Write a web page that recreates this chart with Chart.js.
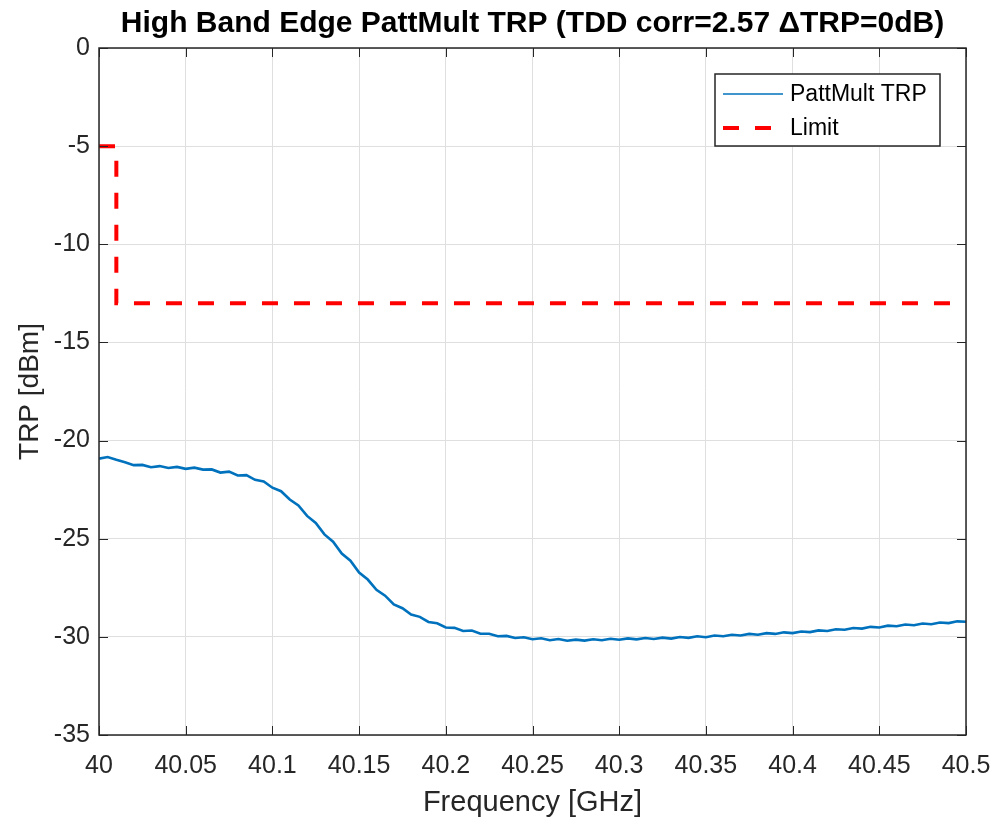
<!DOCTYPE html>
<html>
<head>
<meta charset="utf-8">
<title>High Band Edge PattMult TRP</title>
<script src="https://cdn.jsdelivr.net/npm/chart.js@4/dist/chart.umd.min.js"></script>
<style>
  html, body { margin: 0; padding: 0; background: #ffffff; }
  #wrap { width: 999px; height: 824px; }
</style>
</head>
<body>
<div id="wrap"><canvas id="trp" width="999" height="824" style="width:999px;height:824px"></canvas></div>
<script>
// Measured TRP across the upper band edge (GHz, dBm)
const freqGHz = [
  40.000, 40.005, 40.010, 40.015, 40.020, 40.025, 40.030, 40.035, 40.040, 40.045,
  40.050, 40.055, 40.060, 40.065, 40.070, 40.075, 40.080, 40.085, 40.090, 40.095,
  40.100, 40.105, 40.110, 40.115, 40.120, 40.125, 40.130, 40.135, 40.140, 40.145,
  40.150, 40.155, 40.160, 40.165, 40.170, 40.175, 40.180, 40.185, 40.190, 40.195,
  40.200, 40.205, 40.210, 40.215, 40.220, 40.225, 40.230, 40.235, 40.240, 40.245,
  40.250, 40.255, 40.260, 40.265, 40.270, 40.275, 40.280, 40.285, 40.290, 40.295,
  40.300, 40.305, 40.310, 40.315, 40.320, 40.325, 40.330, 40.335, 40.340, 40.345,
  40.350, 40.355, 40.360, 40.365, 40.370, 40.375, 40.380, 40.385, 40.390, 40.395,
  40.400, 40.405, 40.410, 40.415, 40.420, 40.425, 40.430, 40.435, 40.440, 40.445,
  40.450, 40.455, 40.460, 40.465, 40.470, 40.475, 40.480, 40.485, 40.490, 40.495,
  40.500
];
const trpDbm = [
  -20.92, -20.84, -20.98, -21.10, -21.25, -21.24, -21.36, -21.30, -21.40, -21.34,
  -21.44, -21.38, -21.48, -21.47, -21.63, -21.58, -21.78, -21.76, -22.00, -22.08,
  -22.40, -22.58, -23.00, -23.30, -23.84, -24.20, -24.78, -25.15, -25.76, -26.12,
  -26.72, -27.08, -27.60, -27.90, -28.35, -28.54, -28.86, -28.98, -29.24, -29.31,
  -29.52, -29.54, -29.70, -29.68, -29.84, -29.84, -29.97, -29.95, -30.06, -30.02,
  -30.12, -30.07, -30.17, -30.11, -30.20, -30.14, -30.19, -30.12, -30.17, -30.10,
  -30.15, -30.08, -30.13, -30.06, -30.11, -30.04, -30.09, -30.01, -30.05, -29.97,
  -30.02, -29.93, -29.97, -29.89, -29.93, -29.85, -29.89, -29.81, -29.85, -29.77,
  -29.81, -29.73, -29.76, -29.67, -29.70, -29.61, -29.64, -29.55, -29.58, -29.49,
  -29.52, -29.43, -29.46, -29.37, -29.41, -29.32, -29.36, -29.27, -29.30, -29.21,
  -29.23
];

// Emission limit mask
const limitFreqGHz = [40.000, 40.010, 40.010, 40.500];
const limitDbm     = [-5, -5, -13, -13];

// Axis ticks
const xTicks = [40, 40.05, 40.1, 40.15, 40.2, 40.25, 40.3, 40.35, 40.4, 40.45, 40.5];
const yTicks = [0, -5, -10, -15, -20, -25, -30, -35];

const seriesLabels = ['PattMult TRP', 'Limit'];
const titleText = 'High Band Edge PattMult TRP (TDD corr=2.57 \u0394TRP=0dB)';

const FONT = "'Liberation Sans', Arial, Helvetica, sans-serif";
const AXIS_COLOR = '#262626';

const toPoints = (xs, ys) => xs.map((x, i) => ({ x: x, y: ys[i] }));

// Title centred over the axes
const axesTitle = {
  id: 'axesTitle',
  afterDraw(chart) {
    const { ctx, chartArea: a } = chart;
    ctx.save();
    ctx.fillStyle = '#000000';
    ctx.font = 'bold 30px ' + FONT;
    ctx.textAlign = 'center';
    ctx.textBaseline = 'middle';
    ctx.fillText(titleText, (a.left + a.right) / 2, 24);
    ctx.restore();
  }
};

// Axes box with inward tick marks
const axesBox = {
  id: 'axesBox',
  afterDatasetsDraw(chart) {
    const { ctx, chartArea: a, scales } = chart;
    const len = 9;
    ctx.save();
    ctx.strokeStyle = AXIS_COLOR;
    ctx.lineWidth = 1;
    ctx.beginPath();
    scales.x.ticks.forEach(t => {
      const px = Math.round(scales.x.getPixelForValue(t.value)) + 0.5;
      ctx.moveTo(px, a.bottom); ctx.lineTo(px, a.bottom - len);
      ctx.moveTo(px, a.top); ctx.lineTo(px, a.top + len);
    });
    scales.y.ticks.forEach(t => {
      const py = Math.round(scales.y.getPixelForValue(t.value)) + 0.5;
      ctx.moveTo(a.left, py); ctx.lineTo(a.left + len, py);
      ctx.moveTo(a.right, py); ctx.lineTo(a.right - len, py);
    });
    ctx.stroke();
    ctx.lineWidth = 1.5;
    ctx.strokeRect(a.left, a.top, a.right - a.left, a.bottom - a.top);
    ctx.restore();
  }
};

// Boxed legend in the upper right of the axes
const boxLegend = {
  id: 'boxLegend',
  afterDraw(chart) {
    const { ctx, chartArea: a } = chart;
    const w = 225, h = 72;
    const x0 = a.right - 26 - w, y0 = a.top + 26;
    ctx.save();
    ctx.fillStyle = '#ffffff';
    ctx.fillRect(x0, y0, w, h);
    ctx.strokeStyle = AXIS_COLOR;
    ctx.lineWidth = 1.5;
    ctx.strokeRect(x0, y0, w, h);
    ctx.font = '23px ' + FONT;
    ctx.textBaseline = 'middle';
    ctx.textAlign = 'left';
    chart.data.datasets.forEach((ds, i) => {
      const cy = y0 + 20 + i * 34;
      ctx.strokeStyle = ds.borderColor;
      ctx.lineWidth = i === 0 ? 1.6 : ds.borderWidth;
      ctx.setLineDash(ds.borderDash || []);
      ctx.beginPath();
      ctx.moveTo(x0 + 8, cy);
      ctx.lineTo(x0 + 68, cy);
      ctx.stroke();
      ctx.setLineDash([]);
      ctx.fillStyle = '#000000';
      ctx.fillText(ds.label, x0 + 75, cy + 1);
    });
    ctx.restore();
  }
};

new Chart(document.getElementById('trp'), {
  type: 'scatter',
  data: {
    datasets: [
      {
        label: seriesLabels[0],
        data: toPoints(freqGHz, trpDbm),
        showLine: true,
        borderColor: '#0072BD',
        backgroundColor: '#0072BD',
        borderWidth: 2.6,
        pointRadius: 0,
        tension: 0
      },
      {
        label: seriesLabels[1],
        data: toPoints(limitFreqGHz, limitDbm),
        showLine: true,
        borderColor: '#FF0000',
        backgroundColor: '#FF0000',
        borderWidth: 4,
        borderDash: [16, 16],
        pointRadius: 0,
        tension: 0
      }
    ]
  },
  options: {
    responsive: false,
    animation: false,
    devicePixelRatio: 1,
    layout: { padding: { left: 0, right: 33, top: 48, bottom: 0 } },
    plugins: {
      legend: { display: false },
      tooltip: { enabled: false },
      title: { display: false }
    },
    scales: {
      x: {
        type: 'linear',
        min: 40,
        max: 40.5,
        afterBuildTicks: s => { s.ticks = xTicks.map(v => ({ value: v })); },
        afterFit: s => { s.height = 89; s.paddingLeft = 0; s.paddingRight = 0; },
        ticks: {
          color: AXIS_COLOR,
          font: { family: FONT, size: 25, lineHeight: 1.2 },
          padding: 16,
          maxRotation: 0,
          autoSkip: false,
          callback: v => String(Number(v.toFixed(2)))
        },
        grid: { color: '#dfdfdf', lineWidth: 1, drawTicks: false },
        border: { display: false },
        title: {
          display: true,
          text: 'Frequency [GHz]',
          color: AXIS_COLOR,
          font: { family: FONT, size: 29, lineHeight: 1.2 },
          padding: { top: 0, bottom: 4 }
        }
      },
      y: {
        type: 'linear',
        min: -35,
        max: 0,
        afterBuildTicks: s => { s.ticks = yTicks.map(v => ({ value: v })); },
        afterFit: s => { s.width = 99; s.paddingTop = 0; s.paddingBottom = 0; },
        ticks: {
          color: AXIS_COLOR,
          font: { family: FONT, size: 25, lineHeight: 1.2 },
          padding: 9,
          autoSkip: false,
          callback: v => String(v)
        },
        grid: { color: '#dfdfdf', lineWidth: 1, drawTicks: false },
        border: { display: false },
        title: {
          display: true,
          text: 'TRP [dBm]',
          color: AXIS_COLOR,
          font: { family: FONT, size: 28, lineHeight: 1.2 },
          padding: { top: 13, bottom: 0 }
        }
      }
    }
  },
  plugins: [axesBox, boxLegend, axesTitle]
});
</script>
</body>
</html>
